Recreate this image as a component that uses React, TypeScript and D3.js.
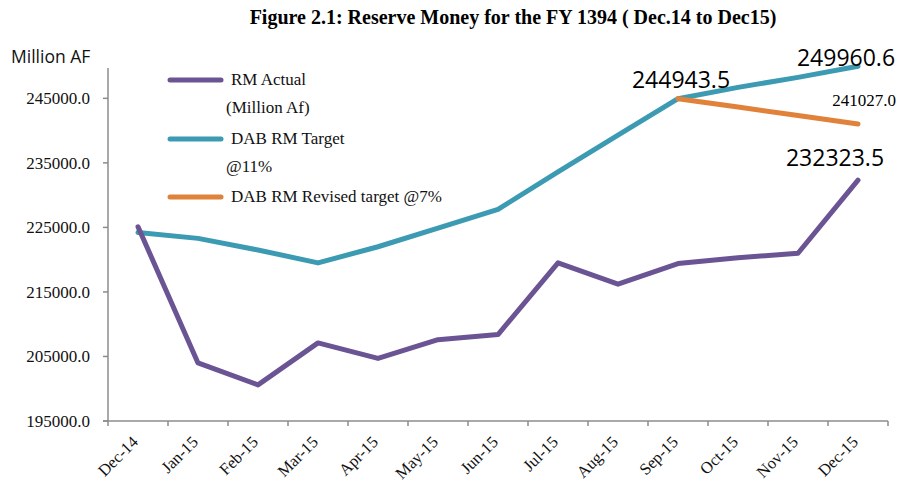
import React from 'react';
import * as d3 from 'd3';

// data
const months = ['Dec-14', 'Jan-15', 'Feb-15', 'Mar-15', 'Apr-15', 'May-15', 'Jun-15',
  'Jul-15', 'Aug-15', 'Sep-15', 'Oct-15', 'Nov-15', 'Dec-15'];
const rmActual = [225100, 204000, 200600, 207100, 204700, 207600, 208400,
  219500, 216200, 219400, 220300, 221000, 232323.5];
const rmTarget = [224200, 223300, 221500, 219500, 222000, 224900, 227800,
  233600, 239300, 244943.5, 246700, 248250, 249960.6];
const rmRevised: (number | null)[] = [null, null, null, null, null, null, null,
  null, null, 244943.5, 243650, 242340, 241027.0];
const yTicks = [195000, 205000, 215000, 225000, 235000, 245000];

const PURPLE = '#6b5494';
const TEAL = '#3d9ab3';
const ORANGE = '#e0823a';
const SERIF = '"Liberation Serif", "Times New Roman", serif';
const SANS = '"Open Sans", sans-serif';

const W = 899;
const H = 482;

const App = () => {
  const x = d3.scaleBand<string>().domain(months).range([108, 888]).padding(0);
  const y = d3.scaleLinear().domain([195000, 249700]).range([421, 68]);
  const cx = (i: number) => (x(months[i]) as number) + x.bandwidth() / 2;

  const line = d3.line<number | null>()
    .defined((d) => d !== null)
    .x((d, i) => cx(i))
    .y((d) => y(d as number));

  const boundaries = months.map((m) => x(m) as number).concat([888]);

  const legend = [
    { color: PURPLE, y: 80, lines: ['RM Actual', '(Million Af)'] },
    { color: TEAL, y: 139, lines: ['DAB RM Target', '@11%'] },
    { color: ORANGE, y: 197, lines: ['DAB RM Revised target @7%'] },
  ];

  const last = months.length - 1;

  return (
    <svg width={W} height={H} style={{ position: 'absolute', left: 0, top: 0, background: '#fff' }}>
      <text x={513} y={24} textAnchor="middle" fontFamily={SERIF} fontWeight="bold" fontSize={20}>
        Figure 2.1: Reserve Money for the FY 1394 ( Dec.14 to Dec15)
      </text>
      <text x={11} y={63} fontFamily={SANS} fontSize={17.5} fill="#111">Million AF</text>

      {/* y axis */}
      <line x1={108} x2={108} y1={68} y2={421} stroke="#8c8c8c" strokeWidth={1.5} />
      {yTicks.map((t) => (
        <g key={t}>
          <line x1={103} x2={108} y1={y(t)} y2={y(t)} stroke="#8c8c8c" strokeWidth={1.5} />
          <text x={90} y={y(t)} dy="0.35em" textAnchor="end" fontFamily={SERIF} fontSize={17} fill="#111">
            {t.toFixed(1)}
          </text>
        </g>
      ))}

      {/* x axis */}
      <line x1={103} x2={888} y1={421} y2={421} stroke="#8c8c8c" strokeWidth={1.5} />
      {boundaries.map((b, i) => (
        <line key={i} x1={b} x2={b} y1={421} y2={426} stroke="#8c8c8c" strokeWidth={1.5} />
      ))}
      {months.map((m, i) => (
        <text key={m} transform={`translate(${cx(i) + 1},${443}) rotate(-45)`} textAnchor="end"
          fontFamily={SERIF} fontSize={16.5} fill="#111">
          {m}
        </text>
      ))}

      {/* series */}
      <path d={line(rmTarget) as string} fill="none" stroke={TEAL} strokeWidth={5} strokeLinejoin="round" strokeLinecap="round" />
      <path d={line(rmRevised) as string} fill="none" stroke={ORANGE} strokeWidth={5} strokeLinejoin="round" strokeLinecap="round" />
      <path d={line(rmActual) as string} fill="none" stroke={PURPLE} strokeWidth={5} strokeLinejoin="round" strokeLinecap="round" />

      {/* data labels */}
      <text x={681} y={88} textAnchor="middle" fontFamily={SANS} fontSize={23}>{rmTarget[9].toFixed(1)}</text>
      <text x={846} y={66} textAnchor="middle" fontFamily={SANS} fontSize={23}>{rmTarget[last].toFixed(1)}</text>
      <text x={835} y={166} textAnchor="middle" fontFamily={SANS} fontSize={23}>{rmActual[last].toFixed(1)}</text>
      <text x={864} y={106} textAnchor="middle" fontFamily={SERIF} fontSize={17}>{(rmRevised[last] as number).toFixed(1)}</text>

      {/* legend */}
      {legend.map((l) => (
        <g key={l.color}>
          <line x1={170} x2={221} y1={l.y} y2={l.y} stroke={l.color} strokeWidth={5} strokeLinecap="round" />
          {l.lines.map((s, j) => (
            <text key={s} x={j === 0 ? 231 : 226} y={l.y + 5 + j * 28} fontFamily={SERIF} fontSize={17} fill="#111">
              {s}
            </text>
          ))}
        </g>
      ))}
    </svg>
  );
};

export default App;
